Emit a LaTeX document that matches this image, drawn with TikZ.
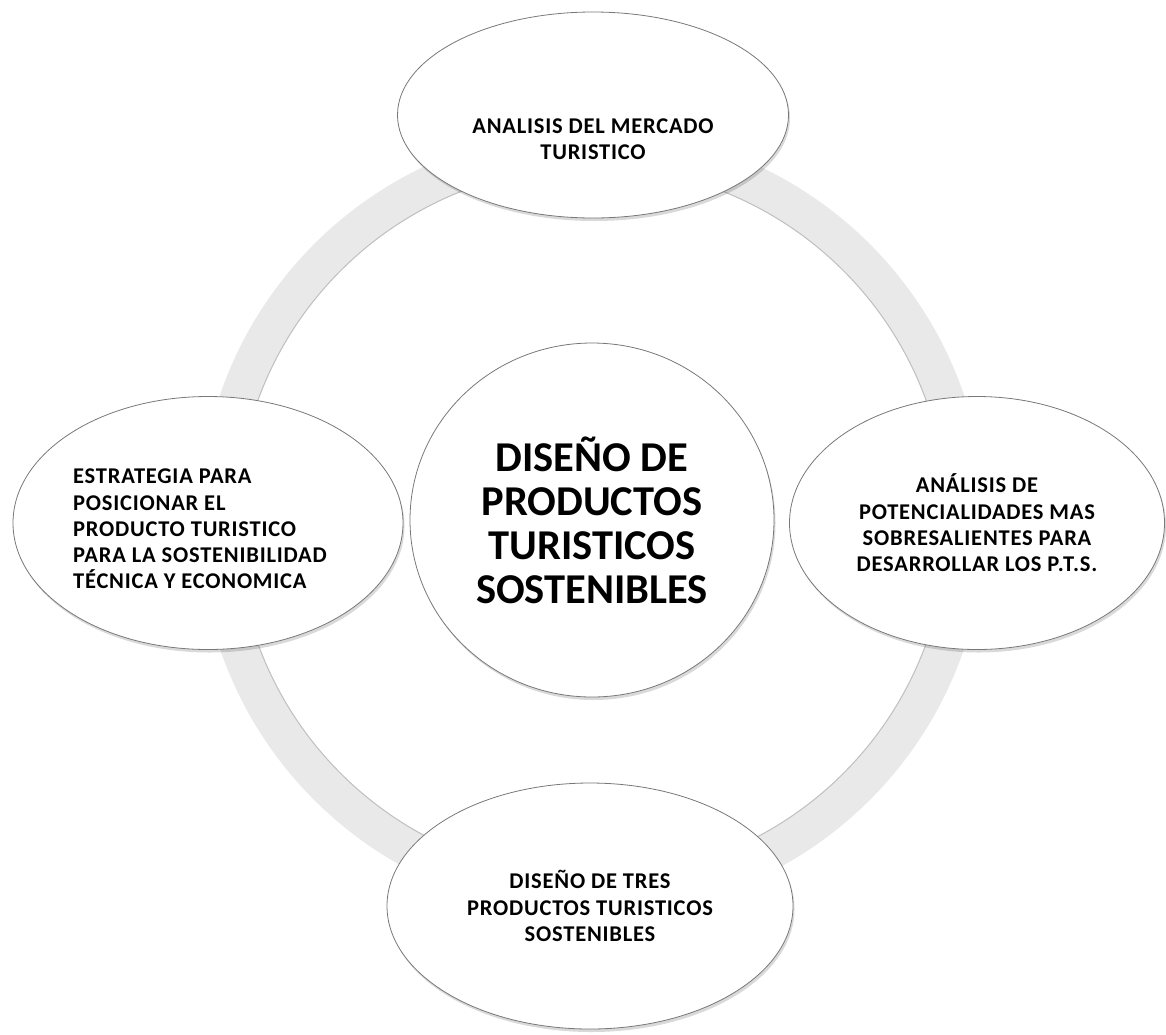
\documentclass[tikz,border=0pt]{standalone}
\usepackage{fontspec}
\setmainfont{Carlito}
\newfontfamily\smallbub[LetterSpace=3.5]{Carlito}
\usetikzlibrary{shapes.geometric,shadows}
\definecolor{ringgray}{RGB}{233,233,233}
\definecolor{ringedge}{RGB}{175,175,175}
\definecolor{outline}{RGB}{120,120,120}
\tikzset{
  bubble/.style={ellipse, draw=outline, line width=0.8pt, fill=white, inner sep=0pt,
    font=\smallbub\bfseries\fontsize{22.5}{26.3}\selectfont,
    drop shadow={shadow xshift=1.5pt, shadow yshift=-3pt, opacity=0.15, fill=black}},
  hub/.style={ellipse, draw=outline, line width=0.8pt, fill=white, inner sep=0pt,
    font=\bfseries\fontsize{42.5}{44}\selectfont, align=center,
    drop shadow={shadow xshift=1.5pt, shadow yshift=-3pt, opacity=0.15, fill=black}},
  bubtext/.style={font=\smallbub\bfseries\fontsize{22.5}{26.3}\selectfont, inner sep=0pt}
}
\begin{document}
\begin{tikzpicture}[x=1pt, y=-1pt]
\useasboundingbox (0,0) rectangle (1166,1034);
% ring
\coordinate (ringc) at (592,522);
\draw[ringgray, line width=38pt] (ringc) circle[radius=374];
\draw[ringedge, line width=1pt, opacity=0.7] (ringc) circle[radius=355.5];
% center
\node[hub, minimum width=364pt, minimum height=354pt] (hub) at (592,520)
  {DISEÑO DE\\PRODUCTOS\\TURISTICOS\\SOSTENIBLES};
% top
\node[bubble, minimum width=391pt, minimum height=206pt] (top) at (593,115) {};
\node[bubtext, align=center] (toptext) at (593,139) {ANALISIS DEL MERCADO\\TURISTICO};
% right
\node[bubble, align=center, minimum width=375pt, minimum height=253pt] (right) at (977,523)
  {ANÁLISIS DE\\POTENCIALIDADES MAS\\SOBRESALIENTES PARA\\DESARROLLAR LOS P.T.S.};
% bottom
\node[bubble, align=center, minimum width=406pt, minimum height=246pt] (bottom) at (590,906)
  {DISEÑO DE TRES\\PRODUCTOS TURISTICOS\\SOSTENIBLES};
% left
\node[bubble, minimum width=390pt, minimum height=253pt] (left) at (208,523) {};
\node[bubtext, align=left, anchor=west] (lefttext) at (73,529)
  {ESTRATEGIA PARA\\POSICIONAR EL\\PRODUCTO TURISTICO\\PARA LA SOSTENIBILIDAD\\TÉCNICA Y ECONOMICA};
\end{tikzpicture}
\end{document}
